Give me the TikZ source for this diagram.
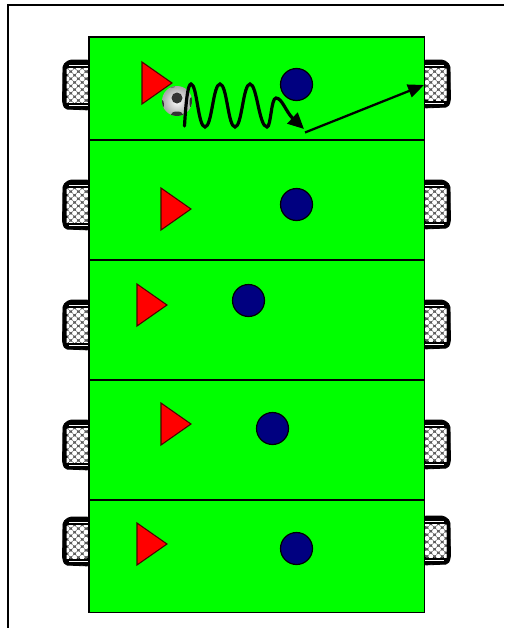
\documentclass[tikz,border=0pt]{standalone}
\usetikzlibrary{arrows.meta,calc}
\definecolor{fieldgreen}{RGB}{0,255,0}
\definecolor{playerblue}{RGB}{0,0,128}
\tikzset{
  pitch/.style={draw=black,fill=fieldgreen,line width=1.3pt},
  divider/.style={draw=black,line width=1.3pt},
  attacker/.style={draw=black!70!red,fill=red,line width=0.8pt,line join=miter},
  defender/.style={circle,draw=black,fill=playerblue,line width=0.9pt,minimum size=24pt,inner sep=0pt},
  framing/.style={draw=black,line width=1.5pt},
  goalframe/.style={draw=black,line width=0.6pt,fill=black,rounded corners=1.5pt},
  runline/.style={draw=black,line width=2.4pt,line cap=round,-{Triangle[length=12pt,width=11pt]}},
  passline/.style={draw=black,line width=1.7pt,-{Triangle[length=12pt,width=10pt]}},
  patch/.style={fill=black!80},
}
% net: #1 x of pitch side, #2 direction (+1 right / -1 left), #3 top y, #4 bottom y
\newcommand{\goalnet}[4]{%
  \path[goalframe] (#1,#3) -- (#1+#2*20,#3) -- (#1+#2*26,#3+5) -- (#1+#2*26.5,#4-6) -- (#1+#2*24,#4) -- (#1,#4+1) -- cycle;
  \begin{scope}
    \clip (#1,#3+8) rectangle (#1+#2*22.5,#4-7);
    \fill[black!65] (#1,#3+8) rectangle (#1+#2*22.5,#4-7);
    \foreach \i in {0,...,3}{\foreach \j in {0,...,6}{
      \fill[white] (#1+#2*\i*7.6+#2*3,#3+8+\j*7.2) circle[radius=2.5];
      \fill[white] (#1+#2*\i*7.6+#2*6.8,#3+8+\j*7.2+3.6) circle[radius=2.5];
    }}
  \end{scope}
  \draw[white,line width=0.5pt] (#1+#2*1,#3+5) -- (#1+#2*20,#3+5);
  \draw[white,line width=0.5pt] (#1+#2*1,#4-3.5) -- (#1+#2*20,#4-3.5);
}
\begin{document}
\begin{tikzpicture}[x=0.75pt,y=-0.75pt]
\useasboundingbox (0,0) rectangle (504,628);
% outer frame
\draw[framing] (7.5,628) -- (7.5,4.5) -- (504,4.5);
% goals
\goalnet{89}{-1}{60}{109}
\goalnet{89}{-1}{180}{229}
\goalnet{89}{-1}{300}{349}
\goalnet{89}{-1}{420}{469}
\goalnet{89}{-1}{517}{565}
\goalnet{424}{1}{60}{107}
\goalnet{424}{1}{180}{228}
\goalnet{424}{1}{300}{348}
\goalnet{424}{1}{420}{468}
\goalnet{424}{1}{516}{564}
% pitch
\path[pitch] (89,37) rectangle (424.5,612.5);
\foreach \y in {140,260,380,500}{\draw[divider] (89,\y) -- (424.5,\y);}
% attackers
\foreach \x/\y in {142/62,161/188,137/284,161/403,137/523}{
  \path[attacker] (\x,\y) -- (\x+30,\y+21) -- (\x,\y+42) -- cycle;
}
% defenders
\node[defender] (d1) at (296.5,84.5) {};
\node[defender] (d2) at (296.5,204.5) {};
\node[defender] (d3) at (248.5,300.5) {};
\node[defender] (d4) at (272.5,428.5) {};
\node[defender] (d5) at (296.5,548.5) {};
% ball
\begin{scope}
  \shade[inner color=white,outer color=black!35] (177,101) circle[radius=15];
  \clip (177,101) circle[radius=15];
  \fill[patch] (177,98) circle[radius=5.5];
  \fill[patch] (177,114.5) ellipse[x radius=6,y radius=3];
  \fill[patch] (162,104.5) ellipse[x radius=2,y radius=4.5];
  \fill[patch] (192,102.5) ellipse[x radius=2.5,y radius=6];
  \fill[black!55] (172,86.5) ellipse[x radius=3,y radius=1.5];
\end{scope}
% dribble
\coordinate (runstart) at (184.5,126);
\coordinate (runend) at (304,129);
\draw[runline] (runstart) .. controls (186,100) and (188,84) .. (191,84)
  .. controls (197,84) and (198,127) .. (205,127)
  .. controls (212,127) and (213,84) .. (220,84)
  .. controls (227,84) and (228,127) .. (235,127)
  .. controls (242,127) and (243,84) .. (250,84)
  .. controls (257,84) and (259,127) .. (267,127)
  .. controls (271,127) and (271,98) .. (276,98)
  .. controls (282,98) and (286,112) .. (runend);
% pass
\coordinate (passstart) at (305,132.5);
\coordinate (passend) at (424,85);
\draw[passline] (passstart) -- (passend);
\end{tikzpicture}
\end{document}
